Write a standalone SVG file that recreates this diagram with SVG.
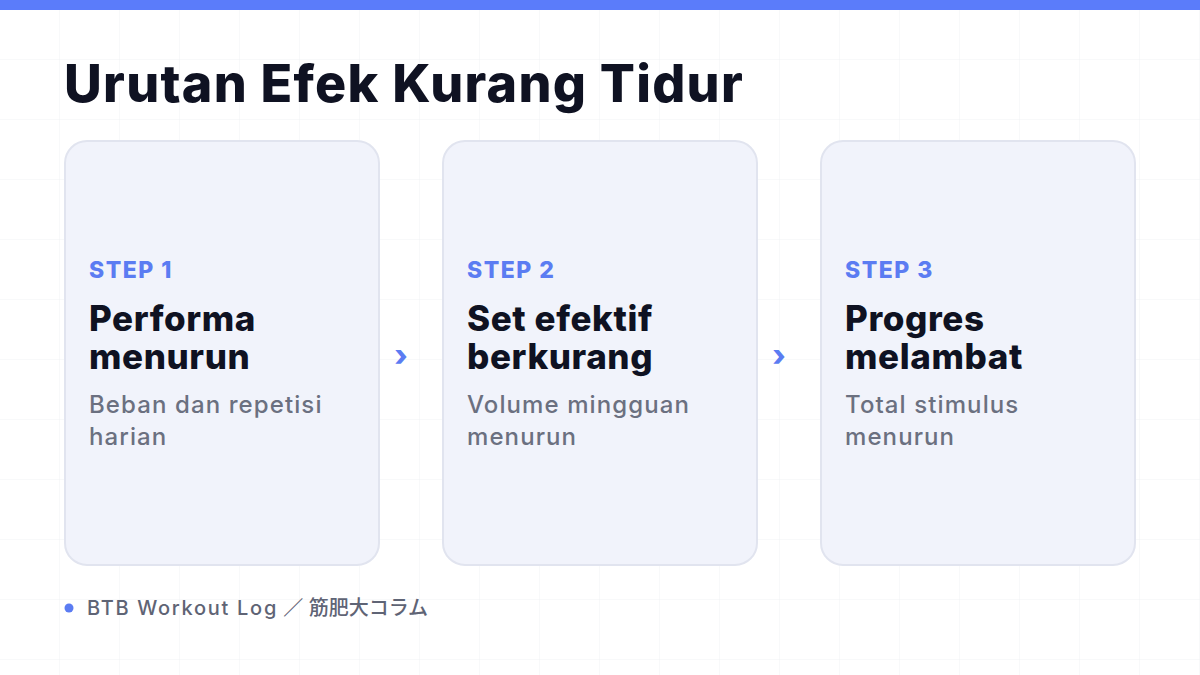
<svg xmlns="http://www.w3.org/2000/svg" width="1200" height="675" viewBox="0 0 1200 675">
<defs>
<pattern id="grid" width="60" height="60" patternUnits="userSpaceOnUse">
<path d="M60 0V60M0 60H60" fill="none" stroke="#f1f2f5" stroke-width="1"/>
</pattern>
</defs>
<style>
.card{fill:#f1f3fb;stroke:#e1e4ef;stroke-width:2}
.step{font-family:Inter,"Noto Sans",sans-serif;font-weight:800;font-size:23px;letter-spacing:1.5px;fill:#5b7cf2}
.head{font-family:Inter,"Noto Sans",sans-serif;font-weight:800;font-size:35px;letter-spacing:0.6px;fill:#0f1222}
.desc{font-family:Inter,"Noto Sans",sans-serif;font-weight:500;font-size:24px;letter-spacing:1.1px;fill:#6b7080}
.arr{font-family:Inter,"Noto Sans",sans-serif;font-weight:800;font-size:30px;fill:#5b7cf2}
</style>
<rect width="1200" height="675" fill="#ffffff"/>
<rect width="1200" height="675" fill="url(#grid)"/>
<rect width="1200" height="10" fill="#5b7cfa"/>
<text x="64" y="102" font-family="Inter,'Noto Sans',sans-serif" font-weight="800" font-size="52" letter-spacing="1.25" fill="#0f1222">Urutan Efek Kurang Tidur</text>
<g id="step1">
<rect class="card" x="65" y="141" width="314" height="424" rx="22"/>
<text class="step" x="89" y="278">STEP 1</text>
<text class="head" x="89" y="331">Performa</text>
<text class="head" x="89" y="369">menurun</text>
<text class="desc" x="89" y="413">Beban dan repetisi</text>
<text class="desc" x="89" y="445">harian</text>
</g>
<g id="step2">
<rect class="card" x="443" y="141" width="314" height="424" rx="22"/>
<text class="step" x="467" y="278">STEP 2</text>
<text class="head" x="467" y="331">Set efektif</text>
<text class="head" x="467" y="369">berkurang</text>
<text class="desc" x="467" y="413">Volume mingguan</text>
<text class="desc" x="467" y="445">menurun</text>
</g>
<g id="step3">
<rect class="card" x="821" y="141" width="314" height="424" rx="22"/>
<text class="step" x="845" y="278">STEP 3</text>
<text class="head" x="845" y="331">Progres</text>
<text class="head" x="845" y="369">melambat</text>
<text class="desc" x="845" y="413">Total stimulus</text>
<text class="desc" x="845" y="445">menurun</text>
</g>
<g id="connectors">
<text class="arr" x="401" y="366" text-anchor="middle">›</text>
<text class="arr" x="779" y="366" text-anchor="middle">›</text>
</g>
<g id="footer">
<circle cx="69" cy="608" r="4.5" fill="#5b7cf2"/>
<text x="87" y="615" font-family="Inter,'Noto Sans','Noto Sans CJK JP',sans-serif" font-weight="500" font-size="20" fill="#5f6475"><tspan letter-spacing="1.7">BTB Workout Log</tspan><tspan letter-spacing="0"> ／ 筋肥大コラム</tspan></text>
</g>
</svg>
